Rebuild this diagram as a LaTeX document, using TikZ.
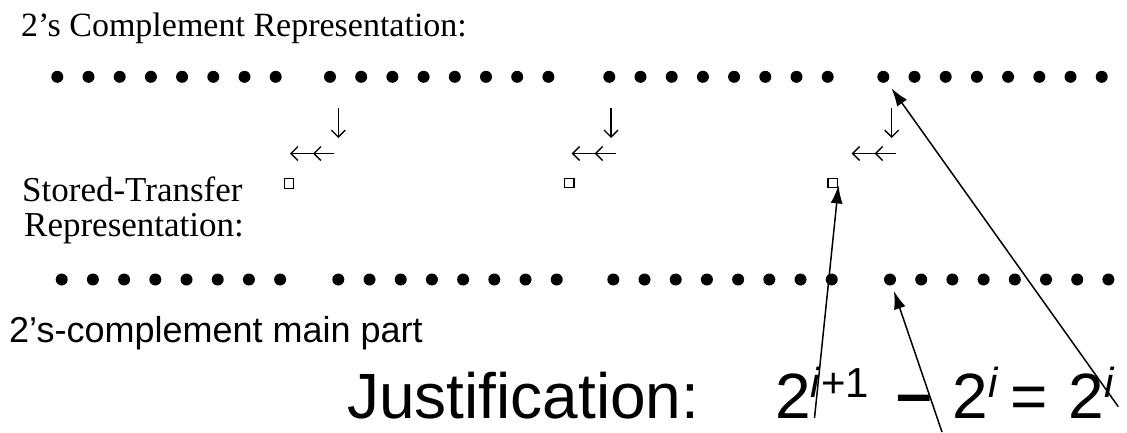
\documentclass[tikz,border=0pt]{standalone}
\usepackage{fontspec}
\setmainfont{Liberation Serif}
\setsansfont{Liberation Sans}
\usetikzlibrary{arrows.meta}
\newcommand{\expo}[1]{\raisebox{21pt}{\fontsize{42}{42}\selectfont #1}}
\begin{document}
\begin{tikzpicture}[x=1pt, y=-1pt]
  \tikzstyle{bit}=[circle, fill=black, minimum size=12pt, inner sep=0pt]
  \tikzstyle{box}=[draw, line width=1.3pt, minimum size=9.5pt, inner sep=0pt]
  \tikzstyle{txt}=[anchor=base west, inner sep=0pt]
  \tikzstyle{pointer}=[line width=1.5pt, -{Latex[length=18pt, width=12pt]}]
  \tikzstyle{carry}=[line width=1.3pt, -{Straight Barb[length=7pt, width=14pt]}]

  \useasboundingbox (0,0) rectangle (1127,432);

  \node[txt, font=\fontsize{34}{40}\selectfont] (title) at (21,36.5) {2’s Complement Representation:};
  \node[txt, font=\fontsize{35}{40}\selectfont] (stored)  at (22,201.5) {Stored-Transfer};
  \node[txt, font=\fontsize{35}{40}\selectfont] (repr)    at (24,236.5) {Representation:};
  \node[txt, font=\sffamily\fontsize{36}{40}\selectfont] (main) at (9,342) {2’s-complement main part};
  \node[txt, font=\sffamily\fontsize{64}{70}\selectfont] (just) at (347,418) {Justification:};
  \node[txt, font=\sffamily\fontsize{64}{70}\selectfont] (eq)   at (775,418)
    {2\expo{\textit{i}+1}\hspace{28pt}\raisebox{3pt}{\textbf{–}}\hspace{20pt}2\expo{\textit{i}}\hspace{12pt}=\hspace{21pt}2\expo{\textit{i}}};

  \foreach \g/\x in {0/57.3, 1/330, 2/609.3, 3/883.3}
    \foreach \k in {0,...,7}
      \node[bit] (t\g\k) at (\x+31.2*\k, 76.8) {};
  \foreach \g/\x in {0/61.7, 1/338.3, 2/613.3, 3/890}
    \foreach \k in {0,...,7}
      \node[bit] (b\g\k) at (\x+31.2*\k, 279.5) {};

  \node[box] (sq1) at (289,  183.5) {};
  \node[box] (sq2) at (569.3, 183)  {};
  \node[box] (sq3) at (832.8, 183)  {};

  \foreach \n/\dx/\lx in {1/338.3/290, 2/611/571.7, 3/891.7/851.7} {
    \coordinate (dtop\n) at (\dx, 108);
    \coordinate (dbot\n) at (\dx, 138);
    \coordinate (lend\n) at (\lx, 153.5);
    \coordinate (lmid\n) at (\lx+23, 153.5);
    \coordinate (lbeg\n) at (\lx+44, 153.5);
    \draw[carry] (dtop\n) -- (dbot\n);
    \draw[carry] (lbeg\n) -- (lmid\n);
    \draw[carry] (lmid\n) -- (lend\n);
  }

  \coordinate (from1) at (1118.3, 406.7);
  \coordinate (from2) at (814.5, 418);
  \coordinate (from3) at (942, 432);
  \draw[pointer, shorten >=8pt]  (from1) -- (t30);
  \draw[pointer, shorten >=-3pt] (from2) -- (sq3.south east);
  \draw[pointer, shorten >=6pt]  (from3) -- (b30);
\end{tikzpicture}
\end{document}
